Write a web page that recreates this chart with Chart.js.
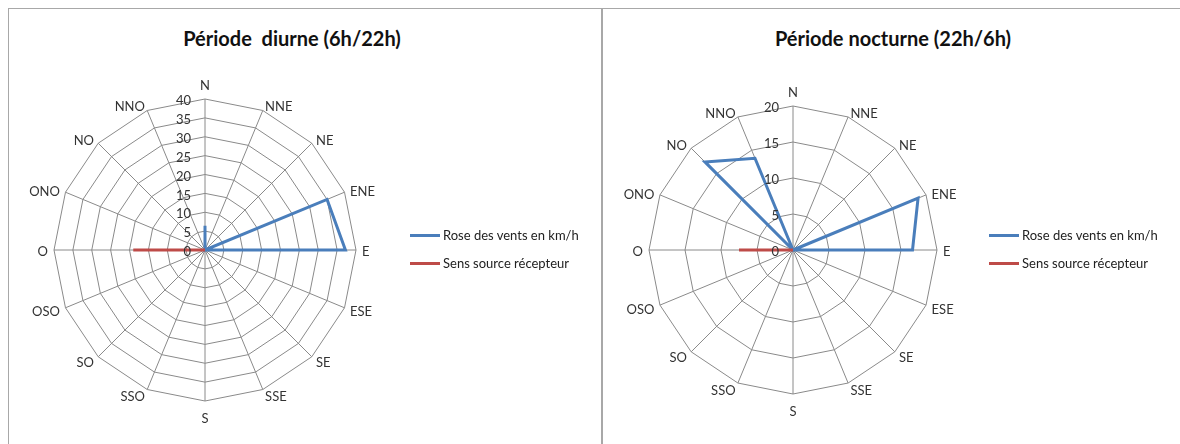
<!DOCTYPE html>
<html>
<head>
<meta charset="utf-8">
<title>Rose des vents</title>
<script src="https://cdn.jsdelivr.net/npm/chart.js"></script>
<style>
  body { margin: 0; background: #fff; font-family: Lato, "Noto Sans", sans-serif; color: #222; }
  .page { position: relative; width: 1180px; height: 444px; overflow: hidden; }
  .rule { position: absolute; background: #a8a8a8; }
  .title { position: absolute; font-weight: bold; font-size: 20px; white-space: pre; transform: translate(-50%, -50%); color: #111; }
  .legend { position: absolute; font-size: 13px; color: #222; }
  .legend div { height: 28px; display: flex; align-items: center; }
  .legend span.sw { display: inline-block; width: 30px; height: 3px; margin-right: 3px; }
  canvas { position: absolute; }
</style>
</head>
<body>
<div class="page">
  <div class="rule" style="left:8px; top:8px; width:1172px; height:1px;"></div>
  <div class="rule" style="left:8px; top:8px; width:1px; height:436px;"></div>
  <div class="rule" style="left:601px; top:8px; width:2px; height:436px;"></div>

  <div class="title" style="left:292px; top:38px;">Période  diurne (6h/22h)</div>
  <div class="title" style="left:893px; top:38px;">Période nocturne (22h/6h)</div>

  <canvas id="day" width="420" height="360" style="left:-5px; top:70px;"></canvas>
  <canvas id="night" width="420" height="360" style="left:583px; top:70px;"></canvas>

  <div class="legend" style="left:410px; top:221px;">
    <div><span class="sw" style="background:#4a7ebb"></span>Rose des vents en km/h</div>
    <div><span class="sw" style="background:#be4b48"></span>Sens source récepteur</div>
  </div>
  <div class="legend" style="left:989px; top:221px;">
    <div><span class="sw" style="background:#4a7ebb"></span>Rose des vents en km/h</div>
    <div><span class="sw" style="background:#be4b48"></span>Sens source récepteur</div>
  </div>
</div>

<script>
// directions, clockwise from north
const directions = ['N', 'NNE', 'NE', 'ENE', 'E', 'ESE', 'SE', 'SSE', 'S', 'SSO', 'SO', 'OSO', 'O', 'ONO', 'NO', 'NNO'];

// day period (6h/22h)
const dayWind = [6.4, 0, 0, 35, 37.2, 0, 0, 0, 0, 0, 0, 0, 0, 0, 0, 0];
const daySource = [0, 0, 0, 0, 0, 0, 0, 0, 0, 0, 0, 0, 19, 0, 0, 0];
const dayTicks = [0, 5, 10, 15, 20, 25, 30, 35, 40];

// night period (22h/6h)
const nightWind = [0, 0, 0, 18.8, 16.6, 0, 0, 0, 0, 0, 0, 0, 0, 0, 17.3, 13.8];
const nightSource = [0, 0, 0, 0, 0, 0, 0, 0, 0, 0, 0, 0, 7.5, 0, 0, 0];
const nightTicks = [0, 5, 10, 15, 20];

const BLUE = '#4a7ebb';
const RED = '#be4b48';
const GRID = '#8a8a8a';
const FONT = '13px Lato, "Noto Sans", sans-serif';

// excel-style labels: values left of the north axis, directions beside each spoke
const roseLabels = {
  id: 'roseLabels',
  afterDraw(chart) {
    const r = chart.scales.r;
    const ctx = chart.ctx;
    ctx.save();
    ctx.font = FONT;
    ctx.fillStyle = '#333';
    ctx.textBaseline = 'middle';

    ctx.textAlign = 'right';
    r.ticks.forEach(t => {
      const y = r.yCenter - r.getDistanceFromCenterForValue(t.value);
      ctx.fillText(String(t.value), r.xCenter - 14, y + 2);
    });

    directions.forEach((name, i) => {
      const p = r.getPointPosition(i, r.drawingArea + 6);
      const c = Math.cos(p.angle);
      let y = p.y + 2;
      if (Math.abs(c) < 0.01) {
        ctx.textAlign = 'center';
        y += Math.sin(p.angle) < 0 ? -9.5 : 9.5;
      } else {
        ctx.textAlign = c > 0 ? 'left' : 'right';
      }
      ctx.fillText(name, p.x, y);
    });
    ctx.restore();
  }
};

function makeRose(id, wind, source, ticks, radius) {
  const canvas = document.getElementById(id);
  const padX = (canvas.width - 2 * radius) / 2;
  const padY = (canvas.height - 2 * radius) / 2;
  new Chart(canvas, {
    type: 'radar',
    data: {
      labels: directions,
      datasets: [
        { label: 'Rose des vents en km/h', data: wind, borderColor: BLUE, borderWidth: 3, fill: false, pointRadius: 0, order: 1 },
        { label: 'Sens source récepteur', data: source, borderColor: RED, borderWidth: 3, fill: false, pointRadius: 0, order: 0 }
      ]
    },
    options: {
      responsive: false,
      animation: false,
      layout: { padding: { left: padX, right: padX, top: padY, bottom: padY } },
      plugins: { legend: { display: false }, title: { display: false }, tooltip: { enabled: false } },
      scales: {
        r: {
          min: ticks[0],
          max: ticks[ticks.length - 1],
          ticks: { stepSize: 5, display: false },
          grid: { color: GRID, lineWidth: 1 },
          angleLines: { color: GRID, lineWidth: 1 },
          pointLabels: { display: false }
        }
      }
    },
    plugins: [roseLabels]
  });
}

makeRose('day', dayWind, daySource, dayTicks, 151);
makeRose('night', nightWind, nightSource, nightTicks, 144);
</script>
</body>
</html>
